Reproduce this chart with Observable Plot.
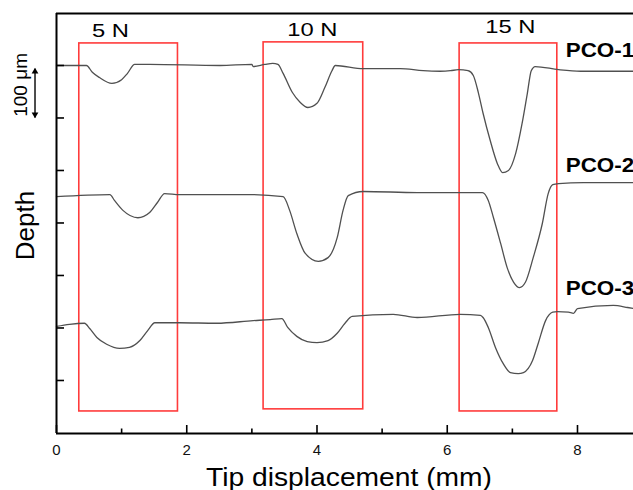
<!DOCTYPE html>
<html><head><meta charset="utf-8">
<script src="https://cdn.jsdelivr.net/npm/d3@7"></script>
<script src="https://cdn.jsdelivr.net/npm/@observablehq/plot@0.6"></script>
<style>body{margin:0;background:#fff;}</style>
</head><body><div id="chart"></div>
<script>
// Profile series: [tip displacement (mm), depth (µm, arbitrary offset per sample)]
const seriesNames = ["PCO-1", "PCO-2", "PCO-3"];
const pco1 = [[0,0],[0.46,0],[0.55,13],[0.66,23],[0.85,34],[1.0,27],[1.09,15],[1.2,-2],[1.43,-2],[2.51,0],[3.0,-2],[3.02,2],[3.2,-2],[3.32,-4],[3.4,-2],[3.48,15],[3.62,51],[3.74,70],[3.86,80],[4.0,72],[4.12,42],[4.23,10],[4.28,0],[4.71,6],[5.28,6],[5.63,10],[5.89,11],[6.05,10],[6.17,8],[6.32,10],[6.4,19],[6.48,53],[6.55,91],[6.66,143],[6.77,187],[6.85,204],[6.94,200],[7.05,168],[7.15,110],[7.23,53],[7.29,10],[7.35,2],[7.71,8],[8.05,11],[8.86,11]];
const pco2 = [[0,250],[0.82,246],[0.89,257],[1.02,276],[1.25,290],[1.43,280],[1.55,261],[1.66,244],[1.89,246],[2.97,246],[3.48,250],[3.58,276],[3.69,320],[3.82,358],[4.02,373],[4.17,366],[4.31,328],[4.4,276],[4.48,248],[4.71,240],[5.54,242],[6.2,242],[6.54,242],[6.63,257],[6.71,290],[6.82,339],[6.92,385],[7.02,413],[7.11,423],[7.2,413],[7.32,366],[7.46,301],[7.55,244],[7.62,227],[7.71,225],[8.09,223],[8.86,223]];
const pco3 = [[0,497],[0.2,493],[0.43,491],[0.51,501],[0.62,518],[0.77,531],[0.97,539],[1.12,537],[1.28,524],[1.4,505],[1.51,490],[1.89,490],[2.46,491],[3.02,486],[3.28,484],[3.46,482],[3.55,499],[3.69,516],[3.85,526],[4.0,528],[4.17,524],[4.31,510],[4.43,491],[4.54,478],[5.17,474],[5.54,480],[6.2,474],[6.51,476],[6.55,480],[6.63,499],[6.74,537],[6.86,568],[6.97,585],[7.09,587],[7.17,585],[7.31,562],[7.4,528],[7.51,486],[7.62,470],[7.69,469],[7.86,470],[7.94,472],[8.0,463],[8.55,457],[8.77,461],[8.86,463]];

// Load boxes
const forceNames = ["5 N", "10 N", "15 N"];
const boxStart = [0.35, 3.18, 6.19];
const boxEnd = [1.865, 4.71, 7.69];
const boxTop = [-42, -44, -42];
const boxBottom = [659, 655, 659];
const forceLabelX = [0.83, 3.93, 6.97];
const forceLabelDepth = [-65, -67, -74];

// Sample labels
const sampleLabelX = [7.82, 7.82, 7.82];
const sampleLabelDepth = [-29, 190, 425];

// Ticks / domains
const xMajorTicks = [0, 2, 4, 6, 8];
const xMinorTicks = [1, 3, 5, 7];
const yTicks = [0, 100, 200, 300, 400, 500, 600];
const xDomain = [0, 8.86];
const yDomain = [701, -99];

// 100 µm scale bar
const scaleBarLabel = ["100 μm"];
const scaleBarX = [-0.33];
const scaleBarFrom = [6];
const scaleBarTo = [99];
const scaleBarLabelX = [-0.545];
const scaleBarLabelDepth = [37];

const xTitle = "Tip displacement (mm)";
const yTitle = "Depth";

const profiles = [pco1, pco2, pco3].flatMap((s, k) => s.map(([x, d]) => ({series: seriesNames[k], x, d})));
const boxes = forceNames.map((f, i) => ({f, x1: boxStart[i], x2: boxEnd[i], y1: boxTop[i], y2: boxBottom[i]}));
const forceLabels = forceNames.map((f, i) => ({f, x: forceLabelX[i], d: forceLabelDepth[i]}));
const sampleLabels = seriesNames.map((s, i) => ({s, x: sampleLabelX[i], d: sampleLabelDepth[i]}));
const scaleBar = scaleBarLabel.map((t, i) => ({t, x: scaleBarX[i], y1: scaleBarFrom[i], y2: scaleBarTo[i], lx: scaleBarLabelX[i], ld: scaleBarLabelDepth[i]}));

const W = 633, H = 490, ML = 56, MR = 0, MT = 13, MB = 57;
const frameW = W - ML - MR, frameH = H - MT - MB;
const FONT = "'Liberation Sans', Arial, Helvetica, sans-serif";

const chart = Plot.plot({
  width: W, height: H,
  marginLeft: ML, marginRight: MR, marginTop: MT, marginBottom: MB,
  style: {fontFamily: FONT, background: "#fff", color: "#000", fontSize: "15px"},
  x: {domain: xDomain, axis: null},
  y: {domain: yDomain, axis: null},
  marks: [
    Plot.rect(boxes, {x1: "x1", x2: "x2", y1: "y1", y2: "y2", fill: "none", stroke: "#ff3b3b", strokeWidth: 1.6}),
    Plot.line(profiles, {x: "x", y: "d", z: "series", stroke: "#505050", strokeWidth: 1.3, curve: "monotone-x"}),
    // frame lines
    Plot.ruleX([xDomain[0]], {stroke: "#000", strokeWidth: 2}),
    Plot.ruleY([yDomain[0]], {stroke: "#000", strokeWidth: 2}),
    Plot.ruleY([yDomain[1]], {stroke: "#000", strokeWidth: 2}),
    // inward ticks
    Plot.ruleX(xMajorTicks, {insetTop: frameH - 8, stroke: "#000", strokeWidth: 1.6}),
    Plot.ruleX(xMinorTicks, {insetTop: frameH - 4.5, stroke: "#000", strokeWidth: 1.6}),
    Plot.ruleY(yTicks, {insetRight: frameW - 8, stroke: "#000", strokeWidth: 1.6}),
    // tick labels
    Plot.text(xMajorTicks, {x: d => d, frameAnchor: "bottom", textAnchor: "middle", lineAnchor: "top", dy: 11, fontSize: 15, fill: "#111", text: d => String(d)}),
    // axis titles
    Plot.text([xTitle], {frameAnchor: "bottom", textAnchor: "middle", lineAnchor: "middle", dx: 4, dy: 44, fontSize: 25, fill: "#000"}),
    Plot.text([yTitle], {frameAnchor: "left", textAnchor: "middle", lineAnchor: "middle", dx: -31, dy: 2, rotate: -90, fontSize: 26, fill: "#000"}),
    // load labels
    Plot.text(forceLabels, {x: "x", y: "d", text: "f", fontSize: 19, fill: "#000"}),
    // sample labels
    Plot.text(sampleLabels, {x: "x", y: "d", text: "s", textAnchor: "start", fontSize: 20, fontWeight: "bold", fill: "#000"}),
    // scale bar: shaft + filled heads
    Plot.link(scaleBar, {x1: "x", x2: "x", y1: "y1", y2: "y2", stroke: "#000", strokeWidth: 1.4, insetTop: 4, insetBottom: 4}),
    Plot.dot(scaleBar, {x: "x", y: "y1", symbol: "triangle2", r: 3.2, fill: "#000", dy: 3}),
    Plot.dot(scaleBar, {x: "x", y: "y2", symbol: "triangle2", r: 3.2, fill: "#000", rotate: 180, dy: -3}),
    Plot.text(scaleBar, {x: "lx", y: "ld", text: "t", rotate: -90, fontSize: 19, fill: "#000"})
  ]
});

// The reference figure is slightly stretched horizontally: widen horizontal labels accordingly
const stretchMap = new Map([[xTitle, 1.13], ...forceNames.map(f => [f, 1.25]), ...seriesNames.map(s => [s, 1.12])]);
chart.querySelectorAll("text").forEach(t => {
  const k = stretchMap.get(t.textContent.trim());
  if (k) t.setAttribute("transform", (t.getAttribute("transform") || "") + ` scale(${k},1)`);
});

document.getElementById("chart").appendChild(chart);
</script>
</body></html>
